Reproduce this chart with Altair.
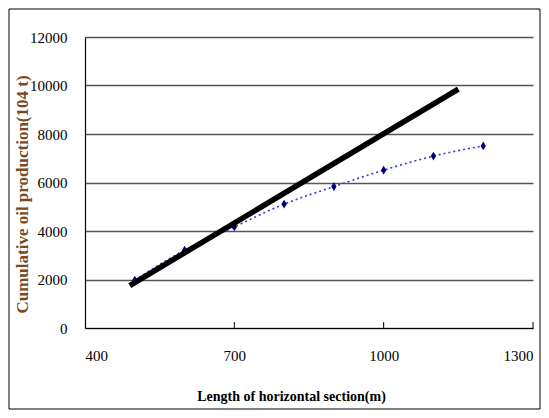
import altair as alt
import pandas as pd

# Measured data (diamonds)
lengths = [500, 600, 700, 800, 900, 1000, 1100, 1200]
production = [1980, 3210, 4170, 5110, 5830, 6510, 7090, 7510]

# Straight (thick black) line end points
line_x = [490, 1150]
line_y = [1750, 9850]

x_ticks = [400, 700, 1000, 1300]
y_ticks = [0, 2000, 4000, 6000, 8000, 10000, 12000]

pts = pd.DataFrame({"x": lengths, "y": production})
straight = pd.DataFrame({"x": line_x, "y": line_y})
ticks_df = pd.DataFrame({"x": x_ticks[1:]})

W, H = 448, 291
PL, PT, PR, PB = 77, 29, 8, 82

xscale = alt.Scale(domain=[400, 1300], nice=False, zero=False)
yscale = alt.Scale(domain=[0, 12000], nice=False)

xaxis = alt.Axis(
    values=x_ticks, title="Length of horizontal section(m)", grid=False,
    format="d", ticks=False, labelPadding=20, labelFont="Liberation Serif",
    labelFontSize=15, labelColor="#000", titleFont="Liberation Serif",
    titleFontSize=14, titleFontWeight="bold", titleColor="#000",
    titleX=206, titleY=68, titleBaseline="middle",
    domainColor="#000", domainWidth=1.2,
)
yaxis = alt.Axis(
    values=y_ticks, title="Cumulative oil production(104 t)", grid=True,
    format="d", gridColor="#555", gridWidth=1.5, ticks=False, labelPadding=18,
    labelFont="Liberation Serif", labelFontSize=15, labelColor="#000",
    titleFont="Liberation Serif", titleFontSize=17, titleFontWeight="bold",
    titleColor="#7a4a22", titleX=-63, titleY=157, titleAngle=-90,
    titleBaseline="middle", domainColor="#000", domainWidth=1.2,
)

frame = alt.Chart(pd.DataFrame({"a": [0]})).mark_rect(
    fill=None, stroke="#000", strokeWidth=1
).encode(
    x=alt.value(-PL + 1), x2=alt.value(W + PR - 1),
    y=alt.value(-PT + 1), y2=alt.value(H + PB - 1),
)

base_axes = alt.Chart(pts).mark_point(opacity=0).encode(
    x=alt.X("x:Q", scale=xscale, axis=xaxis),
    y=alt.Y("y:Q", scale=yscale, axis=yaxis),
)

xticks = alt.Chart(ticks_df).mark_rule(color="#000", strokeWidth=1).encode(
    x=alt.X("x:Q", scale=xscale), y=alt.value(H), y2=alt.value(H - 6)
)

trend = alt.Chart(pts).mark_line(
    color="#3a3ac8", strokeWidth=1.6, strokeDash=[2, 3], interpolate="monotone"
).encode(x=alt.X("x:Q", scale=xscale), y=alt.Y("y:Q", scale=yscale))

diamonds = alt.Chart(pts).mark_point(
    shape="M0,-1L0.62,0L0,1L-0.62,0Z", filled=True, color="#000080",
    size=75, opacity=1
).encode(x=alt.X("x:Q", scale=xscale), y=alt.Y("y:Q", scale=yscale))

black = alt.Chart(straight).mark_line(color="#000", strokeWidth=5.5).encode(
    x=alt.X("x:Q", scale=xscale), y=alt.Y("y:Q", scale=yscale)
)

chart = alt.layer(frame, base_axes, xticks, trend, diamonds, black).properties(
    width=W, height=H,
    autosize=alt.AutoSizeParams(type="none"),
    padding={"left": PL, "top": PT, "right": PR, "bottom": PB},
    background="white",
).configure_view(stroke=None)

chart.save("out.html", embed_options={"renderer": "svg", "actions": False})
